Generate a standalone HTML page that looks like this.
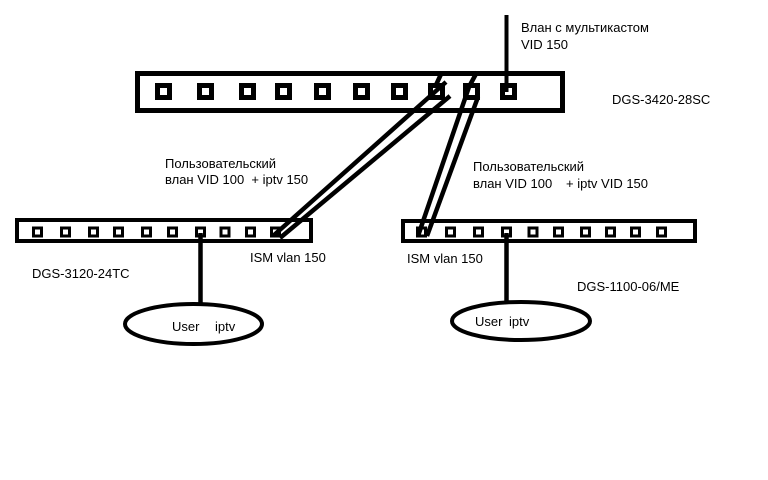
<!DOCTYPE html>
<html>
<head>
<meta charset="utf-8">
<style>
  html,body{margin:0;padding:0;background:#fff;}
  body{width:768px;height:480px;overflow:hidden;}
  svg{display:block;}
  text{font-family:"Liberation Sans","Noto Sans CJK SC",sans-serif;font-size:13px;fill:#000;}
</style>
</head>
<body>
<svg width="768" height="480" viewBox="0 0 768 480" xmlns="http://www.w3.org/2000/svg">
  <rect x="0" y="0" width="768" height="480" fill="#fff"/>

  <!-- Top switch DGS-3420-28SC -->
  <rect x="137.5" y="73.5" width="425" height="37" fill="none" stroke="#000" stroke-width="5"/>
  <g fill="none" stroke="#000" stroke-width="5">
    <rect x="157.5" y="85.5" width="12" height="12"/>
    <rect x="199.5" y="85.5" width="12" height="12"/>
    <rect x="241.5" y="85.5" width="12" height="12"/>
    <rect x="277.5" y="85.5" width="12" height="12"/>
    <rect x="316.5" y="85.5" width="12" height="12"/>
    <rect x="355.5" y="85.5" width="12" height="12"/>
    <rect x="393.5" y="85.5" width="12" height="12"/>
    <rect x="430.5" y="85.5" width="12" height="12"/>
    <rect x="465.5" y="85.5" width="12" height="12"/>
    <rect x="502.5" y="85.5" width="12" height="12"/>
  </g>
  <!-- uplink vertical line -->
  <line x1="506.5" y1="15" x2="506.5" y2="92" stroke="#000" stroke-width="4"/>

  <!-- Diagonal double line pair 1 (to left switch) -->
  <g stroke="#000" stroke-width="4.5" stroke-linecap="butt">
    <line x1="446" y1="82" x2="273" y2="236"/>
    <line x1="450" y1="96" x2="280" y2="238"/>
    <line x1="442" y1="72" x2="436" y2="85"/>
  </g>
  <!-- Diagonal double line pair 2 (to right switch) -->
  <g stroke="#000" stroke-width="4.5" stroke-linecap="butt">
    <line x1="470" y1="84" x2="418" y2="236"/>
    <line x1="478" y1="97" x2="427" y2="236"/>
    <line x1="477" y1="72" x2="470" y2="85"/>
  </g>

  <!-- Left switch DGS-3120-24TC -->
  <rect x="17" y="220" width="294" height="21" fill="none" stroke="#000" stroke-width="4"/>
  <g fill="none" stroke="#000" stroke-width="3">
    <rect x="33.5" y="228" width="8" height="8"/>
    <rect x="61.5" y="228" width="8" height="8"/>
    <rect x="89.5" y="228" width="8" height="8"/>
    <rect x="114.5" y="228" width="8" height="8"/>
    <rect x="142.5" y="228" width="8" height="8"/>
    <rect x="168.5" y="228" width="8" height="8"/>
    <rect x="196.5" y="228" width="8" height="8"/>
    <rect x="221" y="228" width="8" height="8"/>
    <rect x="246.5" y="228" width="8" height="8"/>
    <rect x="271.5" y="228" width="8" height="8"/>
  </g>

  <!-- Right switch DGS-1100-06/ME -->
  <rect x="403" y="221" width="292" height="20" fill="none" stroke="#000" stroke-width="4"/>
  <g fill="none" stroke="#000" stroke-width="3">
    <rect x="417.5" y="228" width="8" height="8"/>
    <rect x="446.5" y="228" width="8" height="8"/>
    <rect x="474.5" y="228" width="8" height="8"/>
    <rect x="502.5" y="228" width="8" height="8"/>
    <rect x="529" y="228" width="8" height="8"/>
    <rect x="554.5" y="228" width="8" height="8"/>
    <rect x="581.5" y="228" width="8" height="8"/>
    <rect x="606.5" y="228" width="8" height="8"/>
    <rect x="631.5" y="228" width="8" height="8"/>
    <rect x="657.5" y="228" width="8" height="8"/>
  </g>

  <!-- User drops -->
  <line x1="200.5" y1="233" x2="200.5" y2="303" stroke="#000" stroke-width="4.5"/>
  <line x1="506.5" y1="233" x2="506.5" y2="301" stroke="#000" stroke-width="4.5"/>

  <!-- User ellipses -->
  <ellipse cx="193.5" cy="324" rx="68.5" ry="20" fill="none" stroke="#000" stroke-width="4"/>
  <ellipse cx="521" cy="321" rx="69" ry="19" fill="none" stroke="#000" stroke-width="4"/>

  <!-- Labels -->
  <text x="521" y="32">Влан с мультикастом</text>
  <text x="521" y="49">VID 150</text>
  <text x="612" y="104">DGS-3420-28SC</text>

  <text x="165" y="168">Пользовательский</text>
  <text x="165" y="184" xml:space="preserve">влан VID 100  + iptv 150</text>

  <text x="473" y="171">Пользовательский</text>
  <text x="473" y="188">влан VID 100</text>
  <text x="566" y="188">+ iptv VID 150</text>

  <text x="32" y="278">DGS-3120-24TC</text>
  <text x="250" y="262">ISM vlan 150</text>
  <text x="407" y="263">ISM vlan 150</text>
  <text x="577" y="291">DGS-1100-06/ME</text>

  <text x="172" y="331">User</text>
  <text x="215" y="331">iptv</text>
  <text x="475" y="326">User</text>
  <text x="509" y="326">iptv</text>
</svg>
</body>
</html>
